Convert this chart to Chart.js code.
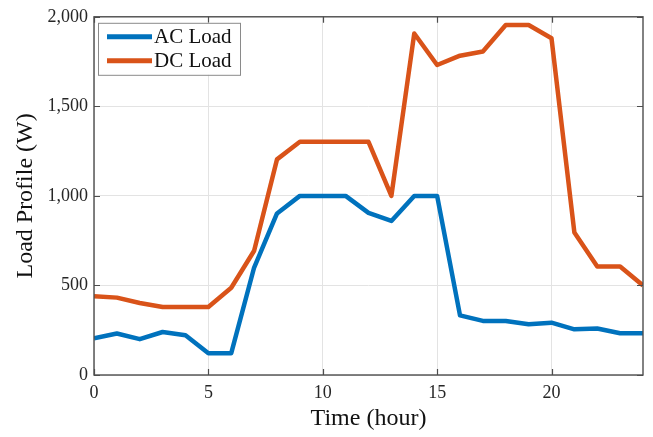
<!DOCTYPE html>
<html>
<head>
<meta charset="utf-8">
<script src="https://cdn.jsdelivr.net/npm/chart.js@4"></script>
<style>
  html, body { margin: 0; padding: 0; background: #fff; }
  #wrap { width: 653px; height: 437px; }
</style>
</head>
<body>
<div id="wrap"><canvas id="c" width="653" height="437"></canvas></div>
<script>
// Hourly load profile, 0..24 h
const hours = [0,1,2,3,4,5,6,7,8,9,10,11,12,13,14,15,16,17,18,19,20,21,22,23,24];
const acLoad = [205,232,200,240,222,122,122,600,902,1000,1000,1000,905,860,1000,1000,333,302,302,283,292,255,260,233,233];
const dcLoad = [440,432,402,380,380,380,487,694,1204,1302,1302,1302,1302,1000,1907,1731,1783,1806,1954,1954,1880,796,606,606,500];
const xTicks = [0,5,10,15,20];
const yTicks = [0,500,1000,1500,2000];
const seriesNames = ['AC Load', 'DC Load'];
const seriesColors = ['#0072BD', '#D95319'];

const FONT = '"Liberation Serif", "Times New Roman", serif';

const toPoints = vals => hours.map((h, i) => ({ x: h, y: vals[i] }));

// Box, inward ticks and an in-axes legend, drawn in MATLAB style
const axesDecor = {
  id: 'axesDecor',
  afterDatasetsDraw(chart) {
    const { ctx, chartArea: a, scales } = chart;
    const xs = scales.x, ys = scales.y;
    ctx.save();
    ctx.strokeStyle = '#4d4d4d';
    ctx.lineWidth = 1.2;
    ctx.beginPath();
    const tl = 6;
    xTicks.forEach(v => {
      const px = Math.round(xs.getPixelForValue(v)) + 0.5;
      ctx.moveTo(px, a.bottom); ctx.lineTo(px, a.bottom - tl);
      ctx.moveTo(px, a.top); ctx.lineTo(px, a.top + tl);
    });
    yTicks.forEach(v => {
      const py = Math.round(ys.getPixelForValue(v)) + 0.5;
      ctx.moveTo(a.left, py); ctx.lineTo(a.left + tl, py);
      ctx.moveTo(a.right, py); ctx.lineTo(a.right - tl, py);
    });
    ctx.stroke();
    ctx.lineWidth = 1.4;
    ctx.strokeRect(a.left, a.top, a.right - a.left, a.bottom - a.top);

    // legend
    const lx = a.left + 4, ly = a.top + 6, lw = 142, lh = 52;
    ctx.fillStyle = '#ffffff';
    ctx.fillRect(lx, ly, lw, lh);
    ctx.strokeStyle = '#8a8a8a';
    ctx.lineWidth = 1;
    ctx.strokeRect(lx + 0.5, ly + 0.5, lw, lh);
    ctx.font = '21px ' + FONT;
    ctx.textBaseline = 'middle';
    ctx.textAlign = 'left';
    seriesNames.forEach((name, i) => {
      const yy = ly + 14 + i * 24;
      ctx.strokeStyle = seriesColors[i];
      ctx.lineWidth = 5;
      ctx.beginPath();
      ctx.moveTo(lx + 9, yy); ctx.lineTo(lx + 54, yy);
      ctx.stroke();
      ctx.fillStyle = '#111';
      ctx.fillText(name, lx + 56, yy + 1);
    });
    ctx.restore();
  }
};

new Chart(document.getElementById('c'), {
  type: 'line',
  data: {
    datasets: [
      { label: seriesNames[0], data: toPoints(acLoad), borderColor: seriesColors[0], borderWidth: 4.5,
        pointRadius: 0, tension: 0, borderJoinStyle: 'round', clip: 0 },
      { label: seriesNames[1], data: toPoints(dcLoad), borderColor: seriesColors[1], borderWidth: 4.5,
        pointRadius: 0, tension: 0, borderJoinStyle: 'round', clip: 0 }
    ]
  },
  options: {
    responsive: false,
    animation: false,
    layout: { padding: { left: 0, right: 10, top: 15, bottom: 0 } },
    plugins: { legend: { display: false }, tooltip: { enabled: false } },
    scales: {
      x: {
        type: 'linear', min: 0, max: 24,
        afterBuildTicks: s => { s.ticks = xTicks.map(v => ({ value: v })); },
        afterFit: s => { s.height = 62; },
        grid: { color: '#e3e3e3', lineWidth: 1, drawTicks: false },
        border: { display: false },
        ticks: { color: '#262626', font: { family: FONT, size: 18 }, padding: 7, maxRotation: 0 },
        title: { display: true, text: 'Time (hour)', color: '#111', font: { family: FONT, size: 24 }, padding: { top: 0 } }
      },
      y: {
        min: 0, max: 2000,
        afterBuildTicks: s => { s.ticks = yTicks.map(v => ({ value: v })); },
        afterFit: s => { s.width = 94; },
        grid: { color: '#e3e3e3', lineWidth: 1, drawTicks: false },
        border: { display: false },
        ticks: { color: '#262626', font: { family: FONT, size: 18 }, padding: 6,
          callback: v => v.toLocaleString('en-US') },
        title: { display: true, text: 'Load Profile (W)', color: '#111', font: { family: FONT, size: 24 }, padding: { top: 11, bottom: 4 } }
      }
    }
  },
  plugins: [axesDecor]
});
</script>
</body>
</html>
